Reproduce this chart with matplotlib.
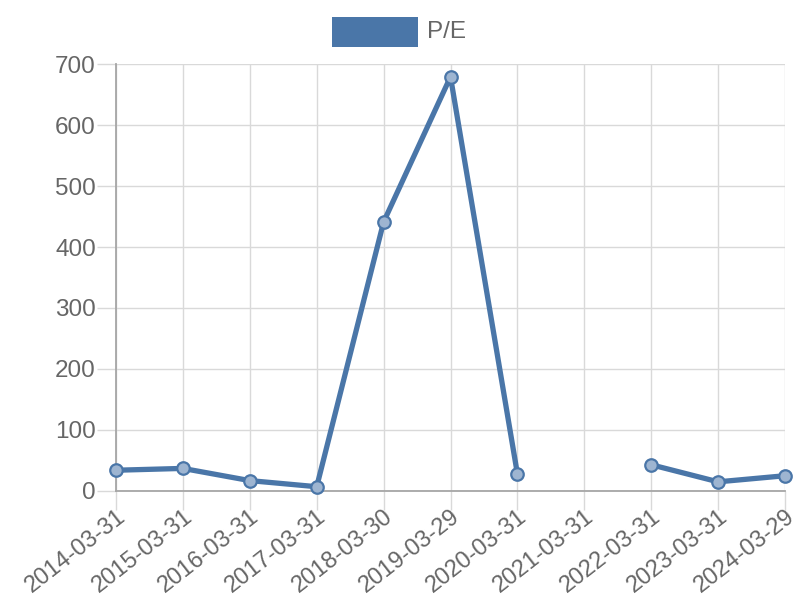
import numpy as np
import matplotlib
matplotlib.use('Agg')
import matplotlib.pyplot as plt
from matplotlib.patches import Rectangle

# data
dates = ['2014-03-31', '2015-03-31', '2016-03-31', '2017-03-31', '2018-03-30',
         '2019-03-29', '2020-03-31', '2021-03-31', '2022-03-31', '2023-03-31',
         '2024-03-29']
pe = [34, 37, 17, 7, 441, 679, 28, np.nan, 43, 15, 25]
y_ticks = [0, 100, 200, 300, 400, 500, 600, 700]

BLUE = '#4a76a8'
GREY = '#666666'

plt.rcParams['font.family'] = ['Liberation Sans', 'DejaVu Sans']

fig = plt.figure(figsize=(8, 6), dpi=100)
ax = fig.add_axes([0.145, 0.1817, 0.83625, 0.7116])

x = np.arange(len(dates))
ax.plot(x, pe, color=BLUE, linewidth=3.8, marker='o', markersize=9,
        markerfacecolor=(0.62, 0.71, 0.82, 1.0), markeredgecolor=BLUE,
        markeredgewidth=1.6, zorder=3, clip_on=False)

ax.set_xlim(0, len(dates) - 1)
ax.set_ylim(0, 700)
ax.set_xticks(x)
ax.set_xticklabels(dates, rotation=38, ha='right', rotation_mode='anchor')
ax.set_yticks(y_ticks)

ax.grid(True, color='#d9d9d9', linewidth=1)
ax.set_axisbelow(True)
for side in ['top', 'right']:
    ax.spines[side].set_visible(False)
for side in ['left', 'bottom']:
    ax.spines[side].set_color('#a6a6a6')
    ax.spines[side].set_linewidth(1.3)

ax.tick_params(axis='both', colors='#d9d9d9', length=13.5, width=1,
               labelcolor=GREY, labelsize=17.5)
ax.tick_params(axis='x', pad=-3, labelsize=17)
ax.tick_params(axis='y', pad=1)

# legend like chart.js: a filled box and the label
fig.patches.append(Rectangle((332 / 800, 1 - 47 / 600), 86 / 800, 30 / 600,
                             transform=fig.transFigure, facecolor=BLUE,
                             edgecolor='none'))
fig.text(427 / 800, 1 - 32 / 600, 'P/E', color=GREY, fontsize=17.5,
         va='center', ha='left')

plt.savefig('out.png', dpi=100)
plt.close()
